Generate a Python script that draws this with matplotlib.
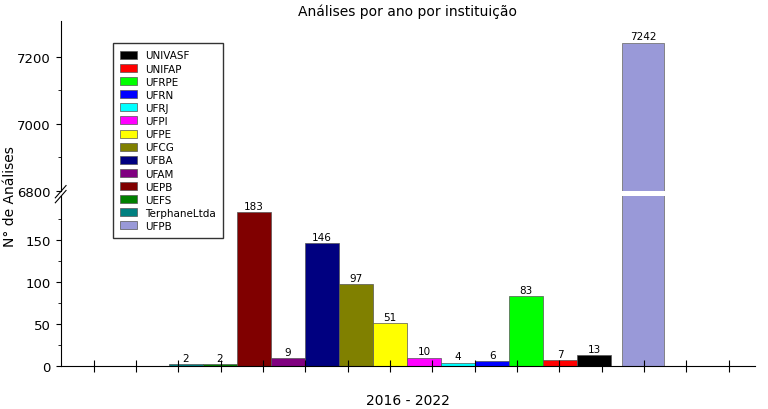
import numpy as np
import matplotlib.pyplot as plt
from matplotlib.patches import Patch

# legend order
labels = ["UNIVASF", "UNIFAP", "UFRPE", "UFRN", "UFRJ", "UFPI", "UFPE", "UFCG",
          "UFBA", "UFAM", "UEPB", "UEFS", "TerphaneLtda", "UFPB"]
colors = ["#000000", "#ff0000", "#00ff00", "#0000ff", "#00ffff", "#ff00ff", "#ffff00",
          "#808000", "#000080", "#800080", "#800000", "#008000", "#008080", "#9999d8"]
values = [13, 7, 83, 6, 4, 10, 51, 97, 146, 9, 183, 2, 2, 7242]

# bar placement (left to right = reverse legend order)
order = list(range(len(labels) - 1))[::-1]
bar_w = 1.0
lefts = [3.18 + i for i in range(len(order))]
ufpb_left, ufpb_w = 16.5, 1.24

fig = plt.figure(figsize=(7.68, 4.10), dpi=100)
ax_lo = fig.add_axes([0.079, 0.105, 0.904, 0.415])
ax_hi = fig.add_axes([0.079, 0.532, 0.904, 0.415])

for ax in (ax_lo, ax_hi):
    for pos, idx in zip(lefts, order):
        ax.bar(pos, values[idx], width=bar_w, align="edge", color=colors[idx],
               edgecolor="#555555", linewidth=0.5)
    ax.bar(ufpb_left, values[-1], width=ufpb_w, align="edge", color=colors[-1],
           edgecolor="#777777", linewidth=0.6)
    ax.set_xlim(0, 20.4)
    for s in ("top", "right"):
        ax.spines[s].set_visible(False)

for pos, idx in zip(lefts, order):
    ax_lo.text(pos + bar_w / 2, values[idx] + 1.5, str(values[idx]), ha="center",
               va="bottom", fontsize=7.5)
ax_hi.text(ufpb_left + ufpb_w / 2, values[-1] + 4, str(values[-1]), ha="center",
           va="bottom", fontsize=7.5)

ax_lo.set_ylim(0, 202)
ax_lo.set_yticks([0, 50, 100, 150])
ax_lo.set_yticks([25, 75, 125, 175], minor=True)
xt = 0.97 + 1.244 * np.arange(16)
ax_lo.set_xticks(xt)
ax_lo.set_xticklabels([])
ax_lo.tick_params(axis="x", direction="inout", length=8)
ax_lo.tick_params(axis="y", labelsize=9.5)
ax_lo.set_xlabel("2016 - 2022", fontsize=10, labelpad=12)

ax_hi.set_ylim(6800, 7307)
ax_hi.set_yticks([6800, 7000, 7200])
ax_hi.set_yticks([6900, 7100], minor=True)
ax_hi.spines["bottom"].set_visible(False)
ax_hi.set_xticks([])
ax_hi.tick_params(axis="y", labelsize=9.5)
ax_hi.set_title("Análises por ano por instituição", fontsize=10, pad=4)

# break marks
kw = dict(transform=fig.transFigure, color="k", lw=0.8, clip_on=False)
fig.add_artist(plt.Line2D([0.072, 0.086], [0.515, 0.545], **kw))
fig.add_artist(plt.Line2D([0.072, 0.086], [0.503, 0.533], **kw))

fig.text(0.013, 0.52, "N° de Análises", rotation=90, va="center", ha="center", fontsize=10)

handles = [Patch(facecolor=c, edgecolor="#555555", linewidth=0.5) for c in colors]
fig.legend(handles, labels, loc="upper left", bbox_to_anchor=(0.14, 0.905),
           fontsize=7.5, frameon=True, fancybox=False, edgecolor="black",
           handlelength=1.6, handleheight=0.8, labelspacing=0.3, borderpad=0.7)

fig.savefig("out.png", dpi=100)
